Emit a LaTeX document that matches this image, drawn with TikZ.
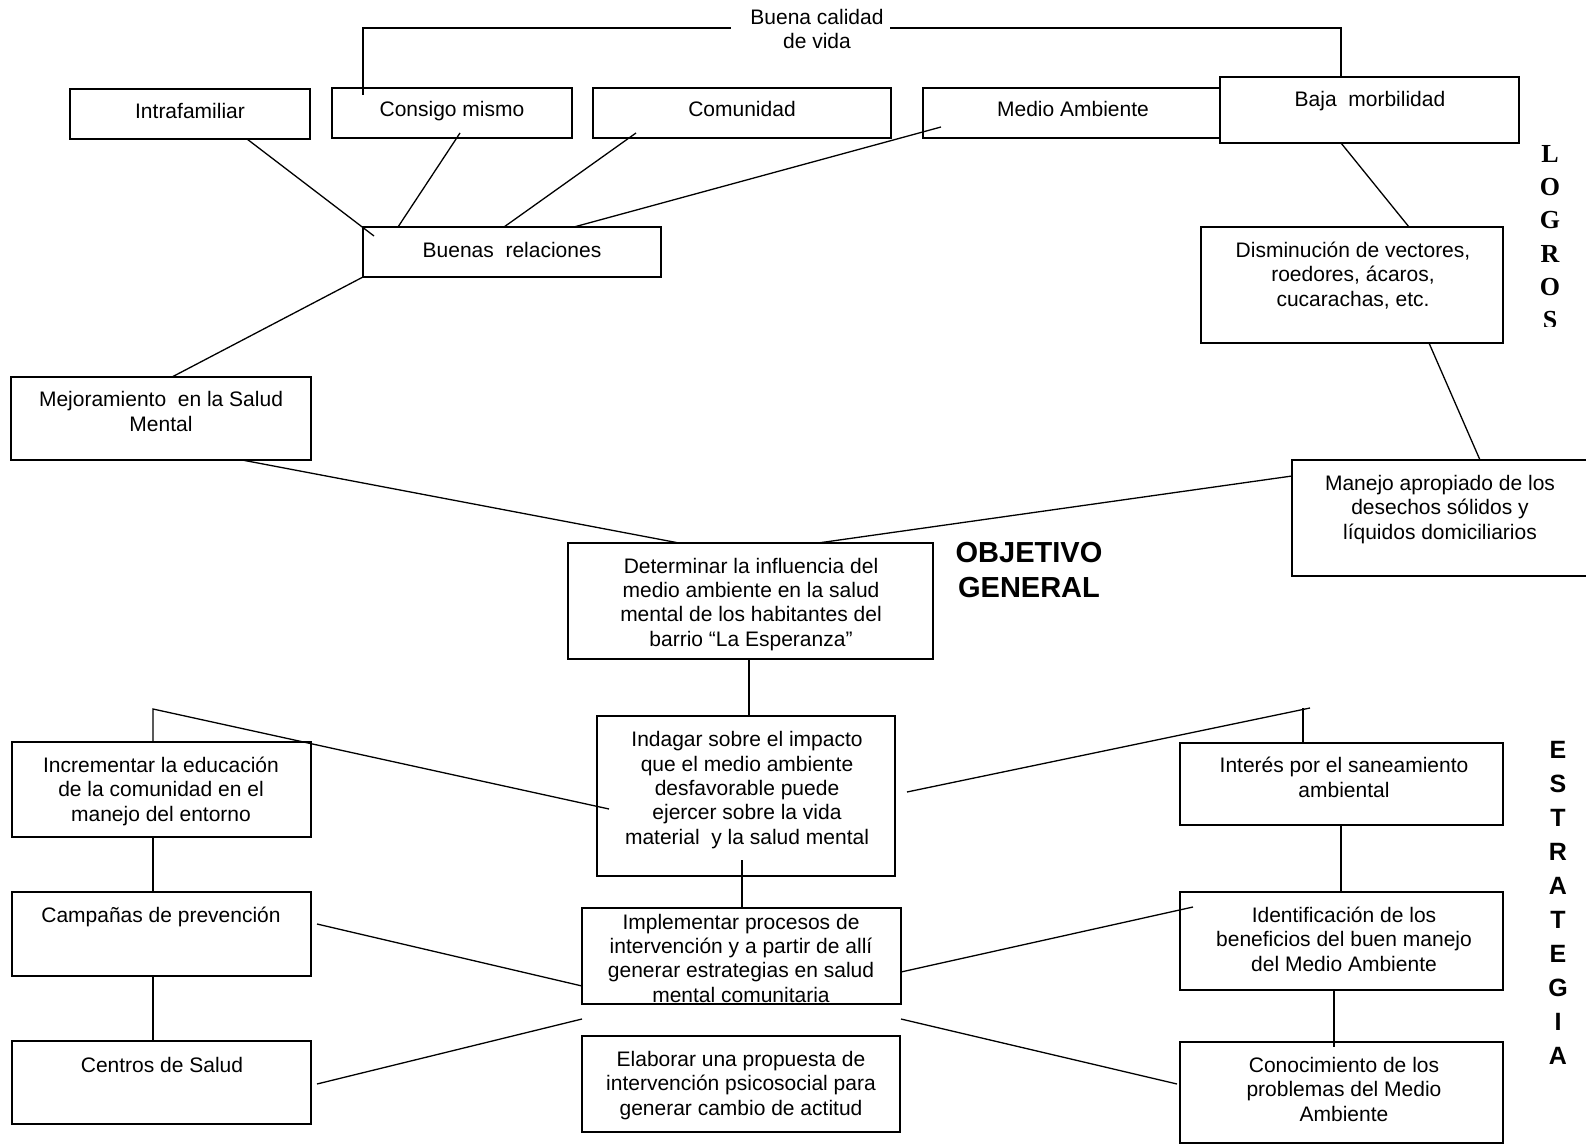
\documentclass[tikz,border=0pt]{standalone}
\usepackage{fontspec}
\setmainfont{Liberation Sans}
\newfontfamily\serifbold{Liberation Serif}
\usetikzlibrary{calc}
\newcommand\bxx[6][]{\node[box,#1,minimum width={(#5-#3)*0.5pt},minimum height={(#6-#4)*0.5pt}] (#2) at ({(#3+#5)/2},{(#4+#6)/2}) {};}
\begin{document}
\begin{tikzpicture}[x=0.5pt,y=-0.5pt,
  box/.style={draw,line width=1pt,inner sep=0pt,outer sep=0pt},
  txt/.style={align=center,inner sep=0pt,font=\fontsize{10.5}{12.15}\selectfont,anchor=base},
  conn/.style={line width=0.65pt}]
\useasboundingbox (0,0) rectangle (1586,1145);
% boxes
\bxx{intra}{70}{89}{310}{139}
\bxx{consigo}{332}{88}{572}{138}
\bxx{comunidad}{593}{88}{891}{138}
\bxx{medio}{923}{88}{1225}{138}
\bxx[fill=white]{baja}{1220}{77}{1519}{143}
\bxx{buenas}{363}{227}{661}{277}
\bxx{dismin}{1201}{227}{1503}{343}
\bxx{mejor}{11}{377}{311}{460}
\bxx{manejo}{1292}{460}{1600}{576}
\bxx{determ}{568}{543}{933}{659}
\bxx{indagar}{597}{716}{895}{876}
\bxx{increm}{12}{742}{311}{837}
\bxx{campanas}{12}{892}{311}{976}
\bxx{centros}{12}{1041}{311}{1124}
\bxx{implem}{582}{908}{901}{1004}
\bxx{elabor}{582}{1036}{900}{1132}
\bxx{interes}{1180}{743}{1503}{825}
\bxx{identif}{1180}{892}{1503}{990}
\bxx{conoc}{1180}{1042}{1503}{1143}
% texts
\node[txt] (calidad) at (817,49) {Buena calidad\\de vida};
\node[txt] (intra-t) at (190,119) {Intrafamiliar};
\node[txt] (consigo-t) at (452,117) {Consigo mismo};
\node[txt] (comunidad-t) at (742,117) {Comunidad};
\node[txt] (medio-t) at (1073,117) {Medio Ambiente};
\node[txt] (baja-t) at (1370,107) {Baja\ \ morbilidad};
\node[txt] (buenas-t) at (512,257) {Buenas\ \ relaciones};
\node[txt] (dismin-t) at (1353,306) {Disminución de vectores,\\roedores, ácaros,\\cucarachas, etc.};
\node[txt] (mejor-t) at (161,431) {Mejoramiento\ \ en la Salud\\Mental};
\node[txt] (manejo-t) at (1440,539) {Manejo apropiado de los\\desechos sólidos y\\líquidos domiciliarios};
\node[txt] (determ-t) at (751,646) {Determinar la influencia del\\medio ambiente en la salud\\mental de los habitantes del\\barrio “La Esperanza”};
\node[txt,font=\fontsize{14.5}{17.5}\selectfont\bfseries] (objetivo) at (1029,597) {OBJETIVO\\GENERAL};
\node[txt] (indagar-t) at (747,844) {Indagar sobre el impacto\\que el medio ambiente\\desfavorable puede\\ejercer sobre la vida\\material\ \ y la salud mental};
\node[txt] (increm-t) at (161,821) {Incrementar la educación\\de la comunidad en el\\manejo del entorno};
\node[txt] (campanas-t) at (161,922) {Campañas de prevención};
\node[txt] (centros-t) at (162,1072) {Centros de Salud};
\node[txt] (implem-t) at (741,1002) {Implementar procesos de\\intervención y a partir de allí\\generar estrategias en salud\\mental comunitaria};
\node[txt] (elabor-t) at (741,1115) {Elaborar una propuesta de\\intervención psicosocial para\\generar cambio de actitud};
\node[txt] (interes-t) at (1344,797) {Interés por el saneamiento\\ambiental};
\node[txt] (identif-t) at (1344,971) {Identificación de los\\beneficios del buen manejo\\del Medio Ambiente};
\node[txt] (conoc-t) at (1344,1121) {Conocimiento de los\\problemas del Medio\\Ambiente};
\begin{scope}
\clip (1500,100) rectangle (1586,326);
\node[txt,font=\fontsize{13}{16.6}\serifbold\bfseries] (logros) at (1550,328.5) {L\\O\\G\\R\\O\\S};
\end{scope}
\node[txt,font=\fontsize{12.5}{16.95}\selectfont\bfseries] (estrategia) at (1558,1064) {E\\S\\T\\R\\A\\T\\E\\G\\I\\A};
% connectors
\draw[conn] ($(intra.south west)+(177,0)$) -- ($(buenas.north west)+(11,9)$);
\draw[conn] ($(consigo.south west)+(128,-5)$) -- ($(buenas.north west)+(35,0)$);
\draw[conn] ($(comunidad.south west)+(43,-5)$) -- ($(buenas.north west)+(141,0)$);
\draw[conn] ($(medio.south west)+(18,-11)$) -- ($(buenas.north west)+(211,0)$);
\draw[conn] (buenas.south west) -- ($(mejor.north west)+(161,0)$);
\draw[conn] ($(baja.south west)+(121,0)$) -- ($(dismin.north west)+(208,0)$);
\draw[conn] ($(dismin.south west)+(228,0)$) -- ($(manejo.north west)+(188,0)$);
\draw[conn] ($(mejor.south west)+(231,0)$) -- ($(determ.north west)+(111,0)$);
\draw[conn] ($(manejo.north west)+(0,16)$) -- ($(determ.north west)+(250,0)$);
\draw[conn] ($(determ.south west)+(181,0)$) -- ($(indagar.north west)+(152,0)$);
\draw[conn] ($(increm.north west)+(141,0)$) -- ++(0,-33) -- ($(indagar.north west)+(12,93)$);
\draw[conn] ($(increm.south west)+(141,0)$) -- ($(campanas.north west)+(141,0)$);
\draw[conn] ($(campanas.south west)+(141,0)$) -- ($(centros.north west)+(141,0)$);
\draw[conn] ($(indagar.south west)+(145,-16)$) -- ($(implem.north west)+(160,0)$);
\draw[conn] ($(campanas.north east)+(6,32)$) -- ($(implem.south west)+(0,-18)$);
\draw[conn] ($(centros.north east)+(6,43)$) -- ($(implem.south west)+(0,15)$);
\draw[conn] ($(indagar.north east)+(12,76)$) -- ($(interes.north west)+(130,-35)$);
\draw[conn] ($(interes.north west)+(123,-35)$) -- ($(interes.north west)+(123,0)$);
\draw[conn] ($(interes.south west)+(161,0)$) -- ($(identif.north west)+(161,0)$);
\draw[conn] ($(implem.north east)+(0,64)$) -- ($(identif.north west)+(13,15)$);
\draw[conn] ($(identif.south west)+(154,0)$) -- ($(conoc.north west)+(154,5)$);
\draw[conn] ($(implem.south east)+(0,15)$) -- ($(conoc.north west)+(-3,42)$);
\coordinate (calL) at (731,28);
\coordinate (calR) at (890,28);
\draw[conn] ($(consigo.north west)+(31,7)$) |- (calL);
\draw[conn] (calR) -| ($(baja.north west)+(121,0)$);
\end{tikzpicture}
\end{document}
